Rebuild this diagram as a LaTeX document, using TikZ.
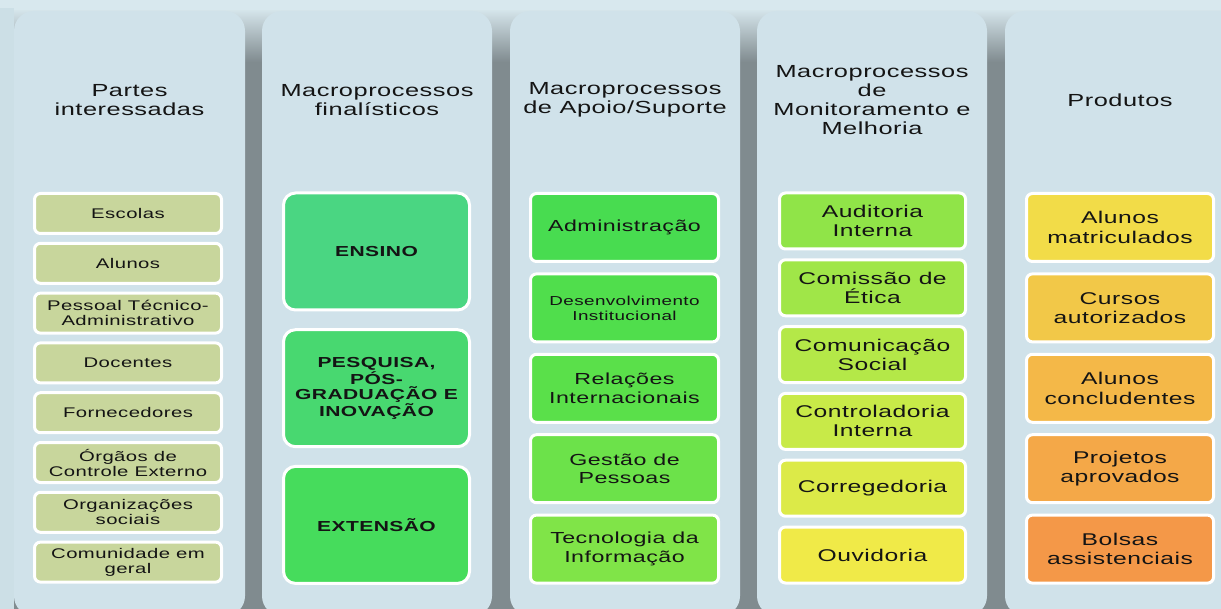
\documentclass[tikz,border=0pt]{standalone}
\usepackage{fontspec}
\setmainfont{Liberation Sans}[FakeStretch=1.45,LetterSpace=3]

\definecolor{bgtop}{HTML}{D8E8EE}
\definecolor{bggap}{HTML}{808B8F}
\definecolor{bgleft}{HTML}{CCDFE6}
\definecolor{panelblue}{HTML}{D0E2EA}
\definecolor{stk}{HTML}{C8D69C}
\definecolor{fina}{HTML}{4AD682}
\definecolor{finb}{HTML}{48D870}
\definecolor{finc}{HTML}{46DC5C}
\definecolor{supa}{HTML}{48DC50}
\definecolor{supb}{HTML}{50DE4C}
\definecolor{supc}{HTML}{5AE04A}
\definecolor{supd}{HTML}{6CE24A}
\definecolor{supe}{HTML}{80E448}
\definecolor{mona}{HTML}{90E448}
\definecolor{monb}{HTML}{A0E648}
\definecolor{monc}{HTML}{B4E848}
\definecolor{mond}{HTML}{C8EA48}
\definecolor{mone}{HTML}{DCEA48}
\definecolor{monf}{HTML}{F0EA48}
\definecolor{proa}{HTML}{F2DC48}
\definecolor{prob}{HTML}{F2C848}
\definecolor{proc}{HTML}{F4B848}
\definecolor{prod}{HTML}{F4A848}
\definecolor{proe}{HTML}{F49848}
\definecolor{ink}{HTML}{141414}

\tikzset{
  panel/.style={fill=panelblue, rounded corners=20pt},
  head/.style={align=center, text=ink, font=\fontsize{17.5}{19}\selectfont},
  cell/.style={draw=white, line width=3pt, rounded corners=6pt, align=center,
    inner sep=1pt, text=ink},
  stakebox/.style={cell, minimum width=187pt, minimum height=40pt,
    font=\fontsize{14}{15}\selectfont},
  finbox/.style={cell, rounded corners=12pt, minimum width=186pt, minimum height=117pt,
    font=\bfseries\fontsize{14.5}{15}\selectfont},
  supbox/.style={cell, minimum width=188pt, minimum height=68pt,
    font=\fontsize{16}{18.5}\selectfont},
  smalltext/.style={font=\fontsize{13}{15}\selectfont},
  monbox/.style={cell, minimum width=186pt, minimum height=56pt,
    font=\fontsize{17}{19}\selectfont},
  prodbox/.style={cell, minimum width=187pt, minimum height=68pt,
    font=\fontsize{17}{19.5}\selectfont}
}

\begin{document}
\begin{tikzpicture}[x=1pt,y=-1pt]
  \useasboundingbox (0,0) rectangle (1221,609);
  \begin{scope}
    \clip (0,0) rectangle (1221,609);
    % background
    \fill[bggap] (0,60) rectangle (1221,609);
    \shade[top color=bgtop, bottom color=bggap] (0,8) rectangle (1221,62);
    \fill[bgtop] (0,0) rectangle (1221,10);
    \fill[bgleft] (0,8) rectangle (14,609);

    % panels
    \fill[panel] (14,11) rectangle (245,616);
    \fill[panel] (262,11) rectangle (492,616);
    \fill[panel] (510,11) rectangle (740,616);
    \fill[panel] (757,11) rectangle (987,616);
    \fill[panel] (1005,11) rectangle (1250,616);
  \end{scope}

  % headers
  \node[head] (h1) at (129.5,100) {Partes\\interessadas};
  \node[head] (h2) at (377,100) {Macroprocessos\\finalísticos};
  \node[head] (h3) at (625,100) {Macroprocessos\\de Apoio/Suporte};
  \node[head] (h4) at (872,100) {Macroprocessos\\de\\Monitoramento e\\Melhoria};
  \node[head] (h5) at (1120,100) {Produtos};

  % partes interessadas
  \foreach \txt [count=\i from 0] in {Escolas, Alunos,
      {Pessoal Técnico-\\Administrativo}, Docentes, Fornecedores,
      {Órgãos de\\Controle Externo}, {Organizações\\sociais},
      {Comunidade em\\geral}}
    \node[stakebox, fill=stk] (ps\i) at (128,213.5+49.8*\i) {\txt};

  % finalisticos
  \foreach \txt/\col [count=\i from 0] in {ENSINO/fina,
      {PESQUISA,\\PÓS-\\GRADUAÇÃO E\\INOVAÇÃO}/finb, EXTENSÃO/finc}
    \node[finbox, fill=\col] (fi\i) at (376.5,251.5+136.7*\i) {\txt};

  % apoio / suporte
  \foreach \txt/\col/\sty [count=\i from 0] in {Administração/supa/supbox,
      {Desenvolvimento\\Institucional}/supb/smalltext,
      {Relações\\Internacionais}/supc/supbox, {Gestão de\\Pessoas}/supd/supbox,
      {Tecnologia da\\Informação}/supe/supbox}
    \node[supbox, \sty, fill=\col] (su\i) at (624.5,227.5+80.4*\i) {\txt};

  % monitoramento e melhoria
  \foreach \txt/\col [count=\i from 0] in {{Auditoria\\Interna}/mona,
      {Comissão de\\Ética}/monb, {Comunicação\\Social}/monc,
      {Controladoria\\Interna}/mond, Corregedoria/mone, Ouvidoria/monf}
    \node[monbox, fill=\col] (mo\i) at (872.5,221+66.8*\i) {\txt};

  % produtos
  \foreach \txt/\col [count=\i from 0] in {{Alunos\\matriculados}/proa,
      {Cursos\\autorizados}/prob, {Alunos\\concludentes}/proc,
      {Projetos\\aprovados}/prod, {Bolsas\\assistenciais}/proe}
    \node[prodbox, fill=\col] (pr\i) at (1120,227.5+80.4*\i) {\txt};
\end{tikzpicture}
\end{document}
